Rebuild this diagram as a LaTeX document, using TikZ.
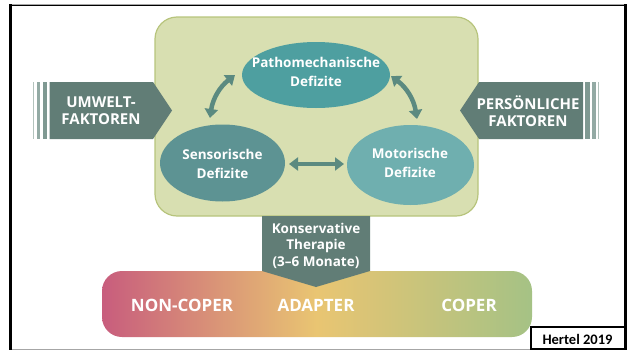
\documentclass[tikz,border=0pt]{standalone}
\usepackage{fontspec}
\setmainfont{Open Sans}
\newfontfamily\carl{Carlito}
\usetikzlibrary{arrows.meta,shapes.geometric}
\definecolor{boxfill}{HTML}{D8DFB1}
\definecolor{boxedge}{HTML}{B7C47C}
\definecolor{cpatho}{HTML}{4E9FA0}
\definecolor{csenso}{HTML}{5D9393}
\definecolor{cmotor}{HTML}{6FAFAF}
\definecolor{carrow}{HTML}{5B8A80}
\definecolor{cside}{HTML}{617D76}
\definecolor{cstripeA}{HTML}{B3C3BD}
\definecolor{cstripeB}{HTML}{93AAA4}
\definecolor{cstripeC}{HTML}{7F9992}
\definecolor{cpink}{HTML}{C85D7D}
\definecolor{cyellow}{HTML}{E9C572}
\definecolor{cgreen}{HTML}{A5C285}
\tikzset{
  ell/.style={ellipse, inner sep=0pt},
  wtext/.style={text=white, font=\fontsize{13.5}{18.5}\selectfont\bfseries, align=center},
  dblarrow/.style={draw=carrow, line width=4.5pt,
    {Triangle[width=13pt,length=9pt]}-{Triangle[width=13pt,length=9pt]}},
  sidetext/.style={text=white, font=\fontsize{15}{17}\selectfont\bfseries, align=center},
  bartext/.style={text=white, font=\fontsize{17}{20}\selectfont\bfseries},
}
\begin{document}
\begin{tikzpicture}[x=1pt,y=-1pt]
\useasboundingbox (0,0) rectangle (629,351);
% frame
\draw[gray!70, line width=1pt] (9,4) -- (627,4);
\draw[black, line width=1.6pt] (9,5.6) -- (627,5.6);
\draw[gray!70, line width=1.2pt] (9,349.5) -- (627,349.5);
\draw[black, line width=3pt] (10.5,4) -- (10.5,350);
\draw[black, line width=3pt] (625,4) -- (625,350);
% green box
\draw[fill=boxfill, draw=boxedge, line width=1.2pt, rounded corners=22pt] (155,17) rectangle (478,216);
% left side arrow
\fill[cstripeA] (32.7,82) rectangle (34.3,139);
\fill[cstripeB] (36.7,82) rectangle (40.3,139);
\fill[cstripeC] (43,82) rectangle (47,139);
\fill[cside] (49.7,82) -- (153,82) -- (172,110.5) -- (153,139) -- (49.7,139) -- cycle;
\node[sidetext] (umwelt) at (101,111) {UMWELT-\\FAKTOREN};
% right side arrow
\fill[cstripeC] (585,82) rectangle (589.5,139);
\fill[cstripeB] (592,82) rectangle (596,139);
\fill[cstripeA] (597.7,82) rectangle (599.3,139);
\fill[cside] (583,82) -- (479,82) -- (460,110.5) -- (479,139) -- (583,139) -- cycle;
\node[sidetext] (pers) at (528,111) {PERSÖNLICHE\\FAKTOREN};
% ellipses
\node[ell, fill=cpatho, minimum width=148pt, minimum height=66pt] (patho) at (316,75) {};
\node[wtext] (pathot) at (316,72) {Pathomechanische\\Defizite};
\node[ell, fill=csenso, minimum width=125pt, minimum height=77pt] (senso) at (222.5,163) {};
\node[wtext] (sensot) at (222.5,164) {Sensorische\\Defizite};
\node[ell, fill=cmotor, minimum width=127pt, minimum height=80pt] (motor) at (410.5,165) {};
\node[wtext] (motort) at (410,163) {Motorische\\Defizite};
% arrows
\coordinate (a1) at (210,118);
\coordinate (a2) at (235,75);
\coordinate (b1) at (391,76);
\coordinate (b2) at (417,119);
\coordinate (c1) at (289,164);
\coordinate (c2) at (344,164);
\draw[dblarrow] (a1) to[bend left=22] (a2);
\draw[dblarrow] (b1) to[bend left=22] (b2);
\draw[dblarrow] (c1) -- (c2);
% bottom bar
\shade[left color=cpink, right color=cgreen, middle color=cyellow, rounded corners=20pt] (102,271) rectangle (532,337);
\node[bartext] (non) at (182,305) {NON-COPER};
\node[bartext] (adapt) at (316,305) {ADAPTER};
\node[bartext] (coper) at (469,305) {COPER};
% konservative
\fill[cside] (262,216) -- (370,216) -- (370,271) -- (316,287) -- (262,271) -- cycle;
\node[text=white, font=\fontsize{13.5}{16.5}\selectfont\bfseries, align=center] (kons) at (316,245.5) {Konservative\\Therapie\\(3–6 Monate)};
% Hertel
\draw[black, line width=1.2pt, fill=white] (531,327) rectangle (625,349);
\node[font=\carl\fontsize{14.5}{15}\selectfont\bfseries] (hertel) at (577.5,339) {Hertel 2019};
\draw[black, line width=3pt] (625,320) -- (625,350);
\end{tikzpicture}
\end{document}
